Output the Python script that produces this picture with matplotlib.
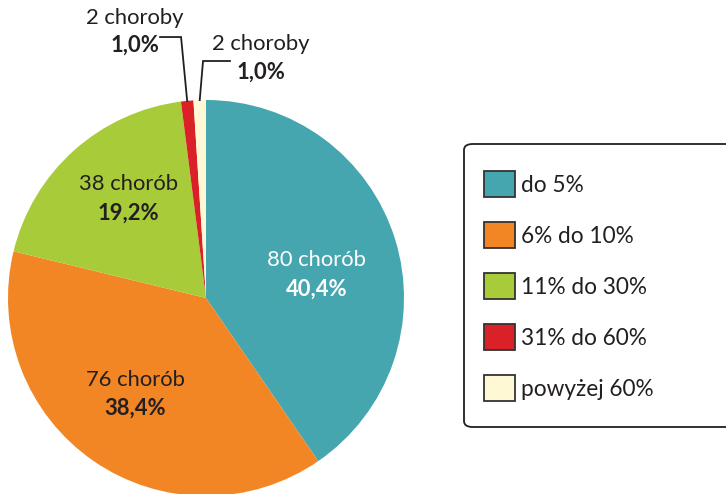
import matplotlib
matplotlib.use('Agg')
import matplotlib.pyplot as plt
from matplotlib.patches import FancyBboxPatch, Rectangle
import numpy as np

plt.rcParams['font.family'] = ['Lato', 'DejaVu Sans']

# data
counts = [80, 76, 38, 2, 2]
pct_labels = ['40,4%', '38,4%', '19,2%', '1,0%', '1,0%']
count_labels = ['80 chorób', '76 chorób', '38 chorób', '2 choroby', '2 choroby']
legend_labels = ['do 5%', '6% do 10%', '11% do 30%', '31% do 60%', 'powyżej 60%']
colors = ['#45A6B0', '#F28524', '#A8CB3A', '#DB2128', '#FFF8D5']
text_colors = ['white', '#231F20', '#231F20']

W, H = 726, 494
fig = plt.figure(figsize=(W / 100, H / 100), dpi=100)

# pie axes: centre ~ (206, 298) px, radius ~198 px
R = 198
cx, cy = 206, 298
ax = fig.add_axes([(cx - R) / W, (H - cy - R) / H, 2 * R / W, 2 * R / H])
wedges, _ = ax.pie(counts, colors=colors, startangle=90, counterclock=False,
                   wedgeprops=dict(linewidth=0))
ax.set_xlim(-1, 1)
ax.set_ylim(-1, 1)
ax.set_aspect('equal')
ax.axis('off')

txt_col = '#231F20'
fs = 15.8

# labels inside the large slices
label_r = [0.57, 0.6, 0.64]
angle_shift = [-5, -2, -4]
for i in range(3):
    w = wedges[i]
    ang = np.deg2rad((w.theta1 + w.theta2) / 2 + angle_shift[i])
    x, y = label_r[i] * np.cos(ang), label_r[i] * np.sin(ang)
    ax.text(x, y + 0.07, count_labels[i], ha='center', va='center',
            fontsize=fs, color=text_colors[i])
    ax.text(x, y - 0.075, pct_labels[i], ha='center', va='center',
            fontsize=fs, fontweight='bold', color=text_colors[i])

# small slices: leader lines and labels above the pie
# red slice -> left, cream slice -> right
small = [
    (3, -0.126, 1.318, -0.232, -0.36, 1.345),
    (4, -0.015, 1.197, 0.121, 0.278, 1.212),
]
for i, ex, ey, hx, tx, ty in small:
    w = wedges[i]
    ang = np.deg2rad((w.theta1 + w.theta2) / 2)
    px, py = np.cos(ang), np.sin(ang)
    ax.plot([px, ex, hx], [py, ey, ey], color='#231F20', lw=1.3,
            clip_on=False, solid_joinstyle='miter')
    ax.text(tx, ty + 0.07, count_labels[i], ha='center', va='center',
            fontsize=fs, color=txt_col, clip_on=False)
    ax.text(tx, ty - 0.07, pct_labels[i], ha='center', va='center',
            fontsize=fs, fontweight='bold', color=txt_col, clip_on=False)

# legend frame, runs past the right edge
box = FancyBboxPatch((464 / W, (H - 427) / H), 290 / W, 283 / H,
                     boxstyle='round,pad=0,rounding_size=0.012',
                     transform=fig.transFigure, facecolor='white',
                     edgecolor='#231F20', linewidth=1.3)
fig.patches.append(box)

handles = [Rectangle((0, 0), 1, 1, facecolor=c, edgecolor='#333333', linewidth=1.3)
           for c in colors]
leg = fig.legend(handles, legend_labels, loc='upper left',
                 bbox_to_anchor=(484 / W, (H - 171) / H),
                 frameon=False, fontsize=16.3, handlelength=1.35,
                 handleheight=1.4, handletextpad=0.3, labelspacing=1.1,
                 borderpad=0, borderaxespad=0)
for t in leg.get_texts():
    t.set_color(txt_col)

fig.savefig('out.png', dpi=100)
